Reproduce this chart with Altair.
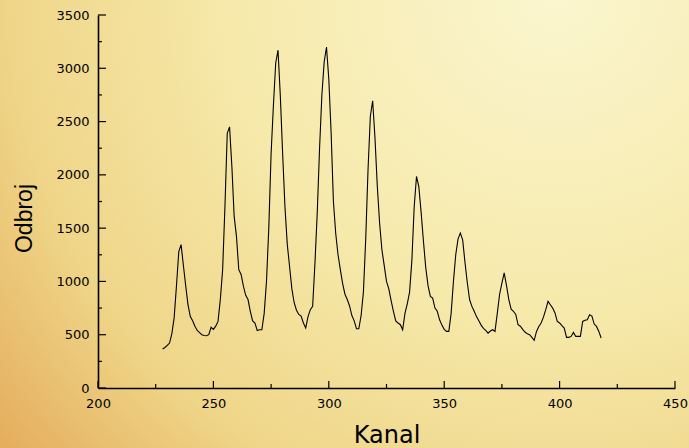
import altair as alt
import pandas as pd

# Spectrum: counts per channel
kanal = list(range(228, 419))
odbroj = [
    366, 380, 400, 422, 510, 660, 960, 1280, 1345, 1150,
    960, 780, 670, 630, 580, 540, 520, 500, 493, 490,
    500, 570, 550, 580, 625, 830, 1110, 1700, 2390, 2450,
    2080, 1610, 1420, 1110, 1065, 955, 870, 830, 720, 630,
    610, 540, 547, 547, 700, 1000, 1500, 2200, 2650, 3050,
    3170, 2740, 2200, 1700, 1350, 1140, 930, 800, 730, 690,
    675, 610, 563, 670, 735, 766, 1170, 1650, 2250, 2750,
    3060, 3200, 2900, 2400, 1750, 1450, 1250, 1110, 980, 880,
    830, 770, 680, 630, 556, 556, 680, 900, 1400, 2050,
    2550, 2695, 2350, 1900, 1550, 1300, 1150, 1000, 930, 820,
    720, 630, 610, 594, 547, 700, 790, 900, 1200, 1700,
    1985, 1890, 1650, 1380, 1130, 960, 860, 844, 750, 720,
    640, 590, 550, 531, 531, 700, 1000, 1250, 1400, 1454,
    1390, 1180, 990, 830, 766, 720, 670, 630, 590, 560,
    541, 515, 535, 547, 531, 700, 880, 985, 1080, 960,
    830, 740, 720, 690, 594, 580, 550, 525, 508, 500,
    475, 447, 531, 578, 610, 665, 735, 813, 781, 750,
    704, 625, 610, 585, 563, 475, 475, 484, 522, 484,
    484, 484, 625, 636, 640, 688, 675, 600, 578, 531,
    469,
]

x_major = [200, 250, 300, 350, 400, 450]
x_minor = [225, 275, 325, 375, 425]
y_major = [0, 500, 1000, 1500, 2000, 2500, 3000, 3500]
y_minor = [250, 750, 1250, 1750, 2250, 2750, 3250]

W, H = 577, 373
BLACK = "#000000"

xscale = alt.Scale(domain=[200, 450], nice=False, zero=False)
yscale = alt.Scale(domain=[0, 3500], nice=False)

x_axis = alt.Axis(
    values=x_major, format="d", ticks=False, grid=False, labelFlush=False, zindex=2,
    domainColor=BLACK, domainWidth=1.6,
    labelFont="DejaVu Sans", labelFontSize=13, labelColor=BLACK, labelPadding=9,
    title="Kanal", titleFont="DejaVu Sans", titleFontSize=24,
    titleFontWeight="normal", titleColor=BLACK,
    titleBaseline="alphabetic", titleY=54,
)
y_axis = alt.Axis(
    values=y_major, format="d", ticks=False, grid=False, labelFlush=False, zindex=2,
    domainColor=BLACK, domainWidth=1.6,
    labelFont="DejaVu Sans", labelFontSize=13, labelColor=BLACK, labelPadding=9,
    title="Odbroj", titleFont="Liberation Sans", titleFontSize=23,
    titleFontWeight="normal", titleColor=BLACK,
    titleAngle=270, titleAlign="center", titleBaseline="middle",
    titleX=-74, titleY=203,
)

df = pd.DataFrame({"Kanal": kanal, "Odbroj": odbroj})

# Warm parchment backdrop spanning the whole canvas
backdrop = alt.Chart(pd.DataFrame({"k": [0]})).mark_rect(
    fill=alt.RadialGradient(
        gradient="radial",
        x1=0.8, y1=0.15, r1=0.0,
        x2=0.8, y2=0.15, r2=1.05,
        stops=[
            alt.GradientStop(offset=0.0, color="#fbf6d0"),
            alt.GradientStop(offset=0.45, color="#f6e9aa"),
            alt.GradientStop(offset=0.75, color="#efd588"),
            alt.GradientStop(offset=1.0, color="#e4aa5a"),
        ],
    ),
    stroke=None,
).encode(
    x=alt.value(-100), x2=alt.value(W + 20),
    y=alt.value(-20), y2=alt.value(H + 80),
)

# Inward-pointing tick marks
def yticks(vals, length):
    return alt.Chart(pd.DataFrame({"v": vals})).mark_rule(color=BLACK, strokeWidth=1.2).encode(
        y=alt.Y("v:Q", scale=yscale, axis=y_axis),
        x=alt.value(0), x2=alt.value(length),
    )

def xticks(vals, length):
    return alt.Chart(pd.DataFrame({"v": vals})).mark_rule(color=BLACK, strokeWidth=1.2).encode(
        x=alt.X("v:Q", scale=xscale, axis=x_axis),
        y=alt.value(H - length), y2=alt.value(H),
    )

line = alt.Chart(df).mark_line(color=BLACK, strokeWidth=1.1).encode(
    x=alt.X("Kanal:Q", scale=xscale, axis=x_axis),
    y=alt.Y("Odbroj:Q", scale=yscale, axis=y_axis),
)

chart = alt.layer(
    backdrop,
    line,
    yticks(y_major, 8), yticks(y_minor, 4),
    xticks(x_major, 7), xticks(x_minor, 4),
).properties(
    width=W, height=H,
    autosize="none",
    padding={"left": 98, "top": 15, "right": 14, "bottom": 60},
    background="#f2de9a",
).configure_view(stroke=None)

chart.save("out.html", embed_options={"renderer": "svg", "actions": False})
